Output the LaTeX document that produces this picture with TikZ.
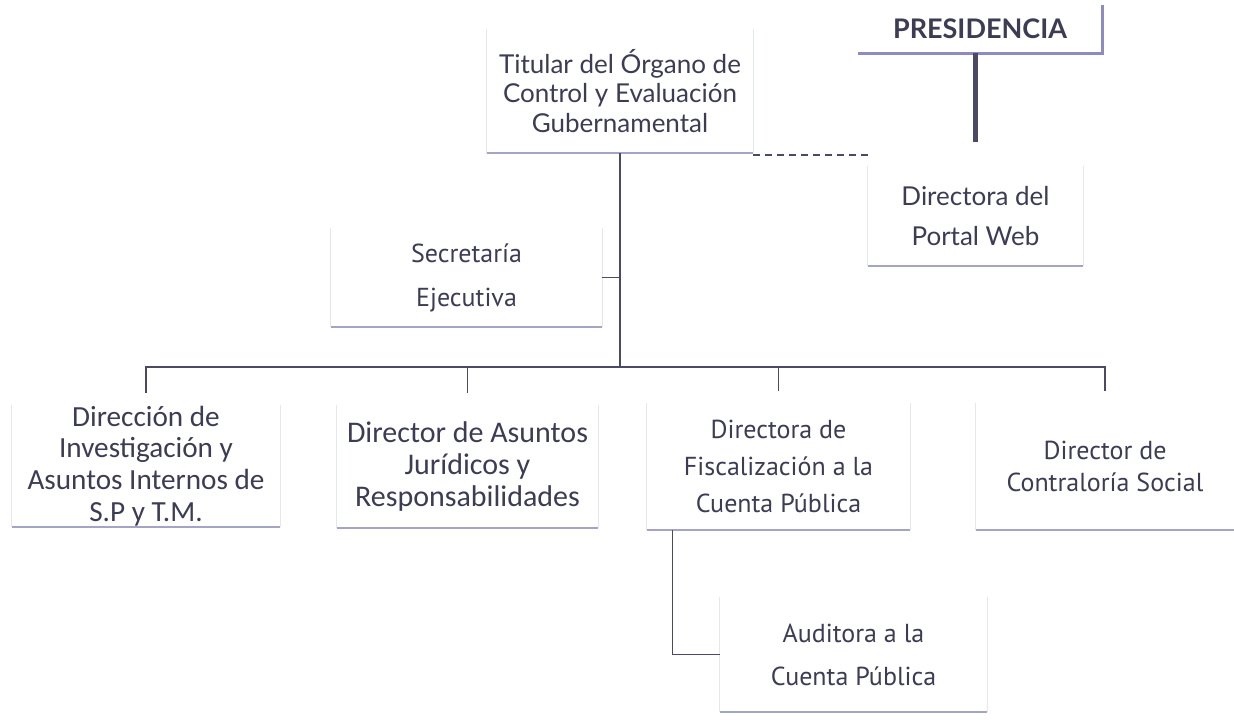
\documentclass[tikz,border=0pt]{standalone}
\usepackage{fontspec}
\usepackage{tikz}
\setmainfont{Carlito}
\newfontfamily\latofont{Lato}
\newfontfamily\dinfont{PT Sans}
\definecolor{textc}{HTML}{3C3C55}
\definecolor{linkc}{HTML}{4A4A66}
\definecolor{rulec}{HTML}{A4A4C4}
\definecolor{sidec}{HTML}{E6E6EE}
\definecolor{presc}{HTML}{8C8CC0}

\begin{document}
\begin{tikzpicture}[x=0.5pt,y=-0.5pt,
    box/.style={inner sep=0pt, align=center, text=textc},
    link/.style={draw=linkc, line width=0.8pt},
    heavy/.style={draw=linkc, line width=2.2pt},
    dashlink/.style={draw=linkc, line width=0.9pt, dash pattern=on 3.5pt off 2.5pt},
    rule/.style={draw=rulec, line width=1pt},
    side/.style={draw=sidec, line width=0.8pt}]
      \useasboundingbox[fill=white] (0,0) rectangle (1234,721);
      % top level
      \node[box, minimum width=133pt, minimum height=62pt, font=\latofont\fontsize{13}{14.8}\selectfont]
        (tit) at (620,91) {Titular del Órgano de\\Control y Evaluación\\Gubernamental};
      \node[box, minimum width=122pt, minimum height=24pt, font=\latofont\bfseries\fontsize{13.5}{15}\selectfont]
        (pres) at (980,29) {PRESIDENCIA};
      \node[box, minimum width=107.5pt, minimum height=50pt, font=\latofont\fontsize{13}{20}\selectfont]
        (portal) at (975.5,216) {Directora del\\Portal Web};
      \node[box, minimum width=135.5pt, minimum height=49.5pt, font=\dinfont\fontsize{13}{22}\selectfont]
        (sec) at (466.5,277.5) {Secretaría\\Ejecutiva};
      % second level
      \node[box, minimum width=134pt, minimum height=61pt, font=\fontsize{14.6}{15.8}\selectfont]
        (inv) at (146,466) {Dirección de\\Investigación y\\Asuntos Internos de\\S.P y T.M.};
      \node[box, minimum width=130.5pt, minimum height=61.5pt, font=\fontsize{15}{15.8}\selectfont]
        (jur) at (467.5,466.5) {Director de Asuntos\\Jurídicos y\\Responsabilidades};
      \node[box, minimum width=131.5pt, minimum height=63.5pt, font=\dinfont\fontsize{13}{18.5}\selectfont]
        (fis) at (778.5,466.5) {Directora de\\Fiscalización a la\\Cuenta Pública};
      \node[box, minimum width=129pt, minimum height=63.5pt, font=\dinfont\fontsize{13}{15.8}\selectfont]
        (soc) at (1105,466.5) {Director de\\Contraloría Social};
      \node[box, minimum width=133.5pt, minimum height=57.5pt, font=\dinfont\fontsize{13}{21.5}\selectfont]
        (aud) at (853.5,654.5) {Auditora a la\\Cuenta Pública};
      % box edges
      \foreach \n in {tit,portal,sec,inv,jur,fis,soc,aud} {
        \draw[side] (\n.south west) -- (\n.north west);
        \draw[side] (\n.south east) -- (\n.north east);
        \draw[rule] (\n.south west) -- (\n.south east);
      }
      \draw[draw=presc, line width=1.3pt] (pres.south west) -- (pres.south east) -- (pres.north east);
      % connectors
      \coordinate (bus) at (620,367);
      \draw[link] (tit.south) -- (bus);
      \draw[link] (sec.east) -- (sec.east -| bus);
      \draw[link] ([yshift=6pt]inv.north) |- (bus);
      \draw[link] ([yshift=6pt]jur.north) |- (bus);
      \draw[link] ([yshift=6pt]fis.north) |- (bus);
      \draw[link] ([yshift=6pt]soc.north) |- (bus);
      \draw[link] ([xshift=13pt]fis.south west) |- (aud.west);
      \draw[dashlink] ([yshift=-1pt]tit.south east) -- ([yshift=-1pt]tit.south east -| portal.west);
      \draw[heavy] (pres.south -| portal.north) -- ([yshift=12pt]portal.north);
    \end{tikzpicture}
\end{document}
